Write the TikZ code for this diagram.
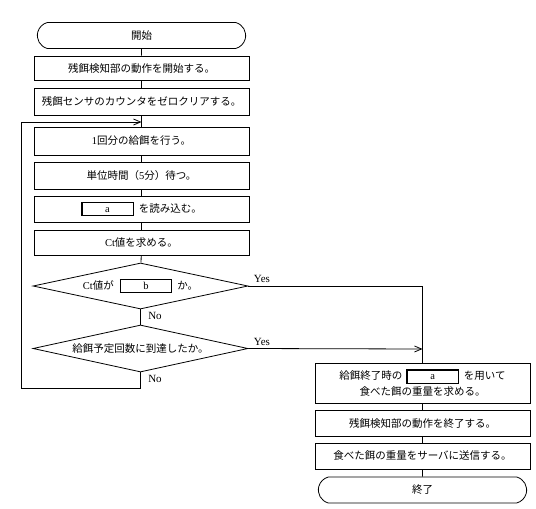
\documentclass[tikz,border=0pt]{standalone}
\usepackage{fontspec}
\usepackage{xcolor}
\usetikzlibrary{shapes.geometric,shapes.misc,arrows.meta}
\setmainfont{Liberation Serif}
\newfontfamily\jpfont{Noto Sans CJK JP}
\newcommand\ansbox[1]{{\setlength{\fboxrule}{1.3pt}\setlength{\fboxsep}{0pt}\fbox{\makebox[50pt]{\rule[-3pt]{0pt}{12pt}\rmfamily #1}}}}

\begin{document}
\begin{tikzpicture}[x=1pt, y=-1pt, line width=0.8pt, font={\jpfont\fontsize{10.5}{16}\selectfont},
        proc/.style={draw, rectangle, minimum width=215pt, minimum height=26pt, inner sep=1pt},
        term/.style={draw, rounded rectangle, rounded rectangle arc length=150, minimum width=215pt, minimum height=26pt},
        cond/.style={draw, diamond, aspect=4.6, minimum width=215pt, minimum height=46pt, inner sep=0pt},
        lab/.style={font={\rmfamily\fontsize{11}{13}\selectfont}},
        arr/.style={-{Straight Barb[length=7pt,width=6pt]}}]
        \useasboundingbox (0,0) rectangle (536,509);
        \node[term] (start) at (141.5,35.5) {開始};
        \node[proc, minimum height=24pt] (b1) at (141.5,68) {残餌検知部の動作を開始する。};
        \node[proc, minimum height=27pt] (b2) at (141.5,101.5) {残餌センサのカウンタをゼロクリアする。};
        \coordinate (join) at (141.5,122);
        \node[proc, minimum height=28pt] (b3) at (141.5,141) {{\rmfamily 1}回分の給餌を行う。};
        \node[proc, minimum height=27pt] (b4) at (141.5,175.5) {単位時間（{\rmfamily 5}分）待つ。};
        \node[proc] (b5) at (141.5,209) {\ansbox{a}\hspace{5pt}を読み込む。};
        \node[proc, minimum height=25pt] (b6) at (141.5,242.5) {{\rmfamily Ct}値を求める。};
        \node[cond] (d1) at (140.5,286) {{\rmfamily Ct}値が\hspace{6pt}\ansbox{b}\hspace{5pt}か。};
        \node[cond, minimum height=47pt] (d2) at (140.5,348.5) {給餌予定回数に到達したか。};
        \coordinate (loopbl) at (21,388);
        \coordinate (merge) at (422.5,349);
        \node[proc, minimum height=40pt, align=center] (b7) at (422.5,383) {給餌終了時の\hspace{4pt}\ansbox{a}\hspace{5pt}を用いて\\食べた餌の重量を求める。};
        \node[proc] (b8) at (422.5,423) {残餌検知部の動作を終了する。};
        \node[proc] (b9) at (422.5,456) {食べた餌の重量をサーバに送信する。};
        \node[term] (end) at (422.5,490) {終了};
        \node[lab] (y1) at (262,279) {Yes};
        \node[lab] (y2) at (262,342) {Yes};
        \node[lab] (n1) at (155,316) {No};
        \node[lab] (n2) at (155,379) {No};
        \draw (start) -- (b1);
        \draw (b1) -- (b2);
        \draw (b2) -- (b3);
        \draw (b3) -- (b4);
        \draw (b4) -- (b5);
        \draw (b5) -- (b6);
        \draw (b6) -- (d1);
        \draw (d1) -- (d2);
        \draw[arr] (d2.south) |- (loopbl) |- (join);
        \draw (d1.east) -| (b7);
        \draw[arr] (d2.east) -- (merge);
        \draw (b7) -- (b8);
        \draw (b8) -- (b9);
        \draw (b9) -- (end);
\end{tikzpicture}
\end{document}
